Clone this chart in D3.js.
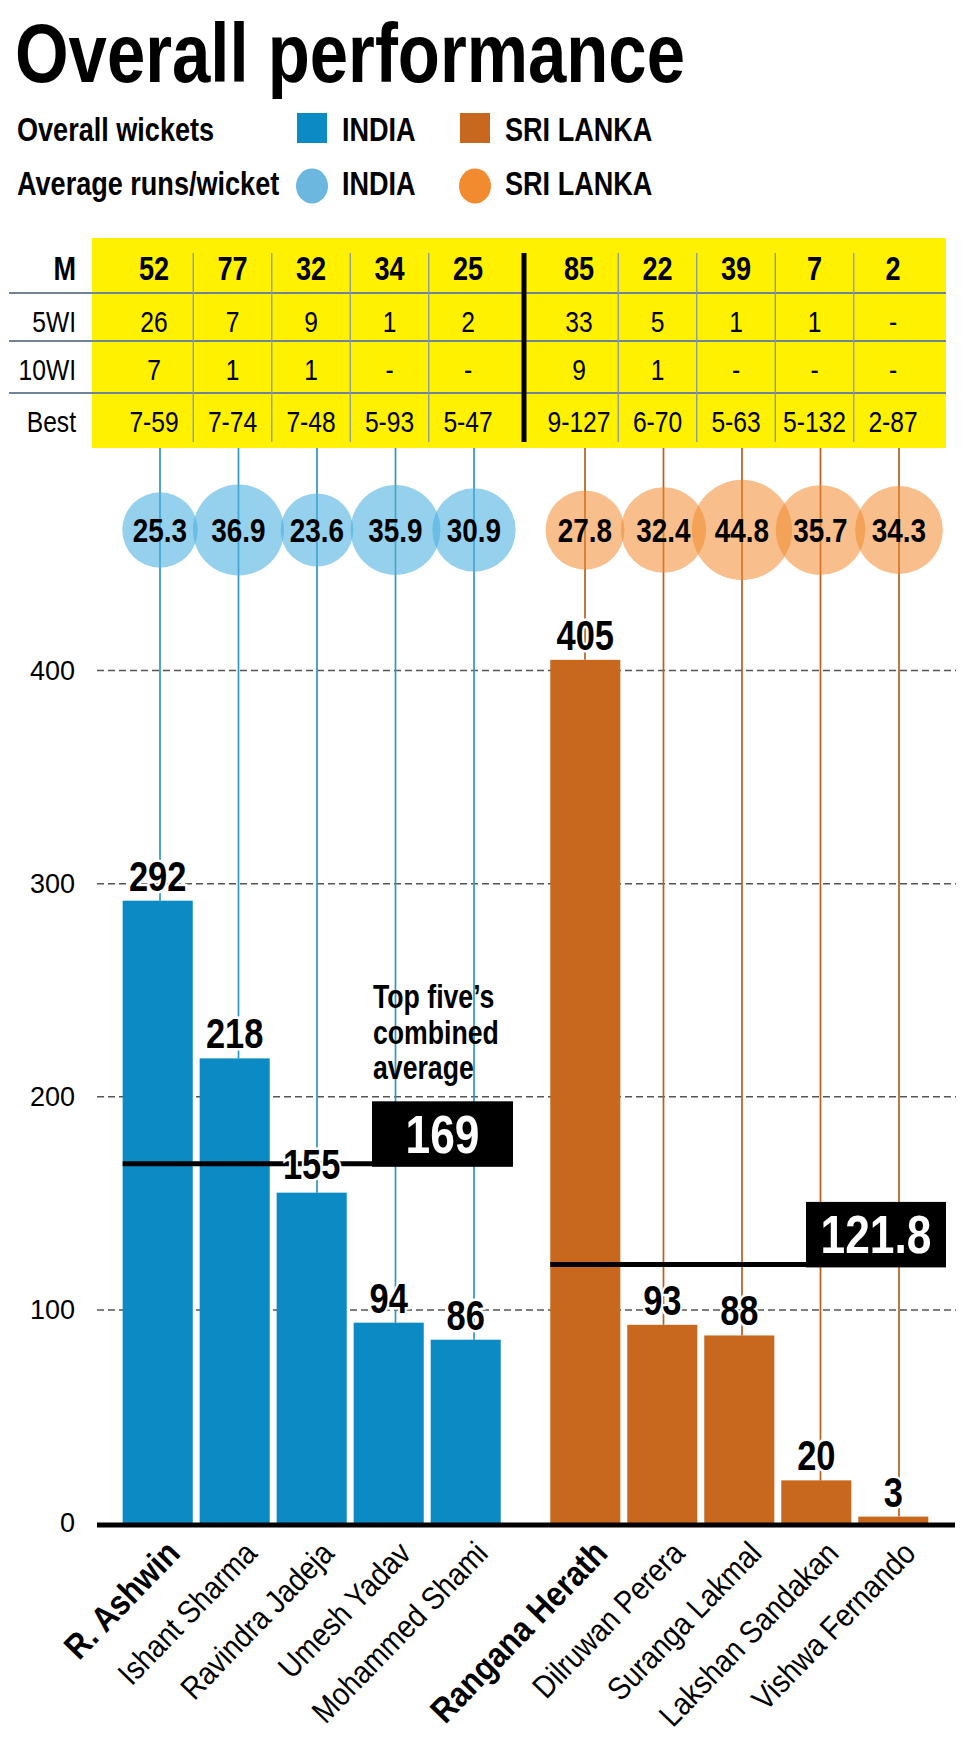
<!DOCTYPE html>
<html>
<head>
<meta charset="utf-8">
<script src="https://cdn.jsdelivr.net/npm/d3@7"></script>
<style>
  body { margin: 0; background: #fff; }
  svg { display: block; }
</style>
</head>
<body>
<svg id="chart"></svg>
<script>
var players = [
  "R. Ashwin", "Ishant Sharma", "Ravindra Jadeja", "Umesh Yadav", "Mohammed Shami",
  "Rangana Herath", "Dilruwan Perera", "Suranga Lakmal", "Lakshan Sandakan", "Vishwa Fernando"
];
var indiaPlayers = players.slice(0, 5);
var lankaPlayers = players.slice(5);
var boldPlayers = ["R. Ashwin", "Rangana Herath"];

var wickets = [292, 218, 155, 94, 86, 405, 93, 88, 20, 3];
var averages = [25.3, 36.9, 23.6, 35.9, 30.9, 27.8, 32.4, 44.8, 35.7, 34.3];
var matches = ["52", "77", "32", "34", "25", "85", "22", "39", "7", "2"];
var fiveWI = ["26", "7", "9", "1", "2", "33", "5", "1", "1", "-"];
var tenWI = ["7", "1", "1", "-", "-", "9", "1", "-", "-", "-"];
var best = ["7-59", "7-74", "7-48", "5-93", "5-47", "9-127", "6-70", "5-63", "5-132", "2-87"];
var rowLabels = ["M", "5WI", "10WI", "Best"];
var teamAverages = [169, 121.8];
var yTicks = [0, 100, 200, 300, 400];

// no narrow face installed: use Liberation Sans and squeeze the texts
var FONT = "'Liberation Sans', Arial, sans-serif";
var SQUEEZE = 0.82;
var colors = {
  india: "#0b8ac4",
  lanka: "#c8671e",
  indiaStem: "#2f98c2",
  lankaStem: "#b95e1c",
  indiaDot: "#4fb0e0",
  lankaDot: "#f28a30",
  yellow: "#fff100",
  rule: "#6f8499",
};

var width = 972;
var height = 1761;

var svg = d3
  .select("#chart")
  .attr("width", width)
  .attr("height", height)
  .style("font-family", FONT);

svg.append("rect").attr("width", width).attr("height", height).attr("fill", "#fff");

function isIndia(name) {
  return indiaPlayers.indexOf(name) >= 0;
}

function squeeze(sel, k) {
  sel.each(function () {
    var len = this.getComputedTextLength();
    d3.select(this)
      .attr("textLength", len * k)
      .attr("lengthAdjust", "spacingAndGlyphs");
  });
}

// bars: two groups with a wider gap between them
var xBarIndia = d3.scaleBand().domain(indiaPlayers).range([119.2, 504.2]).paddingInner(0.09).paddingOuter(0.045);
var xBarLanka = d3.scaleBand().domain(lankaPlayers).range([546.8, 931.8]).paddingInner(0.09).paddingOuter(0.045);
function xBar(name) {
  return isIndia(name) ? xBarIndia(name) : xBarLanka(name);
}
var barWidth = xBarIndia.bandwidth();

// table, bubbles and stems
var xTopIndia = d3.scalePoint().domain(indiaPlayers).range([160, 474]);
var xTopLanka = d3.scalePoint().domain(lankaPlayers).range([585, 899]);
function xTop(name) {
  return isIndia(name) ? xTopIndia(name) : xTopLanka(name);
}
function xCell(name) {
  return xTop(name) - 6;
}

var yScale = d3.scaleLinear().domain([0, 400]).range([1523, 670.5]);
var rScale = d3.scaleSqrt().domain([0, 50]).range([0, 53]);

var rows = players.map(function (p, i) {
  return {
    name: p,
    india: isIndia(p),
    wickets: wickets[i],
    avg: averages[i],
    cells: [matches[i], fiveWI[i], tenWI[i], best[i]],
  };
});

// ---- title and legend
svg
  .append("text")
  .attr("x", 15)
  .attr("y", 82)
  .attr("font-size", 84)
  .attr("font-weight", "bold")
  .text("Overall performance");

var legend = svg.append("g").attr("font-weight", "bold").attr("font-size", 33);
legend.append("text").attr("x", 17).attr("y", 141).text("Overall wickets");
legend.append("text").attr("x", 17).attr("y", 195).text("Average runs/wicket");
legend.append("rect").attr("x", 297).attr("y", 113).attr("width", 30).attr("height", 30).attr("fill", colors.india);
legend.append("rect").attr("x", 460).attr("y", 113).attr("width", 30).attr("height", 30).attr("fill", colors.lanka);
legend.append("ellipse").attr("cx", 312).attr("cy", 186).attr("rx", 16).attr("ry", 17.5).attr("fill", "#6cb7e0");
legend.append("ellipse").attr("cx", 475).attr("cy", 186).attr("rx", 16).attr("ry", 17.5).attr("fill", colors.lankaDot);
[141, 195].forEach(function (yy) {
  legend.append("text").attr("x", 342).attr("y", yy).text("INDIA");
  legend.append("text").attr("x", 505).attr("y", yy).text("SRI LANKA");
});

// ---- stats table
var tableTop = 238;
var tableBottom = 448;
var rowBase = [280, 332, 380, 432];
var ruleY = [293, 341, 393];

svg
  .append("rect")
  .attr("x", 92)
  .attr("y", tableTop)
  .attr("width", 946 - 92)
  .attr("height", tableBottom - tableTop)
  .attr("fill", colors.yellow);

svg
  .selectAll(".rule")
  .data(ruleY)
  .enter()
  .append("line")
  .attr("x1", 9)
  .attr("x2", 946)
  .attr("y1", function (d) { return d; })
  .attr("y2", function (d) { return d; })
  .attr("stroke", colors.rule)
  .attr("stroke-width", 2);

// thin separators between columns of the same team
var seps = [];
[indiaPlayers, lankaPlayers].forEach(function (group) {
  for (var i = 0; i < group.length - 1; i++) {
    seps.push((xCell(group[i]) + xCell(group[i + 1])) / 2);
  }
});
svg
  .selectAll(".sep")
  .data(seps)
  .enter()
  .append("line")
  .attr("x1", function (d) { return d; })
  .attr("x2", function (d) { return d; })
  .attr("y1", 253)
  .attr("y2", 442)
  .attr("stroke", "#8796a8")
  .attr("stroke-width", 1.3);

svg
  .append("line")
  .attr("x1", 524)
  .attr("x2", 524)
  .attr("y1", 253)
  .attr("y2", 442)
  .attr("stroke", "#000")
  .attr("stroke-width", 5);

svg
  .selectAll(".rowlabel")
  .data(rowLabels)
  .enter()
  .append("text")
  .attr("x", 76)
  .attr("y", function (d, i) { return rowBase[i]; })
  .attr("text-anchor", "end")
  .attr("font-size", function (d, i) { return i === 0 ? 33 : 30; })
  .attr("font-weight", function (d, i) { return i === 0 ? "bold" : "normal"; })
  .text(function (d) { return d; });

rowLabels.forEach(function (label, r) {
  svg
    .append("g")
    .selectAll("text")
    .data(rows)
    .enter()
    .append("text")
    .attr("x", function (d) { return xCell(d.name); })
    .attr("y", rowBase[r])
    .attr("text-anchor", "middle")
    .attr("font-size", r === 0 ? 33 : 30)
    .attr("font-weight", r === 0 ? "bold" : "normal")
    .text(function (d) { return d.cells[r]; });
});

// ---- gridlines
var grid = svg.append("g");
grid
  .selectAll("line")
  .data(yTicks.filter(function (d) { return d > 0; }))
  .enter()
  .append("line")
  .attr("x1", 97)
  .attr("x2", 956)
  .attr("y1", function (d) { return yScale(d); })
  .attr("y2", function (d) { return yScale(d); })
  .attr("stroke", "#555")
  .attr("stroke-width", 1.5)
  .attr("stroke-dasharray", "7,4");

// ---- stems
svg
  .append("g")
  .selectAll("line")
  .data(rows)
  .enter()
  .append("line")
  .attr("x1", function (d) { return xTop(d.name); })
  .attr("x2", function (d) { return xTop(d.name); })
  .attr("y1", tableBottom)
  .attr("y2", function (d) { return yScale(d.wickets); })
  .attr("stroke", function (d) { return d.india ? colors.indiaStem : colors.lankaStem; })
  .attr("stroke-width", 1.7);

// ---- bubbles
var bubbleY = 530;
var bubbles = svg.append("g");
bubbles
  .selectAll("circle")
  .data(rows)
  .enter()
  .append("circle")
  .attr("cx", function (d) { return xTop(d.name); })
  .attr("cy", bubbleY)
  .attr("r", function (d) { return rScale(d.avg); })
  .attr("fill", function (d) { return d.india ? colors.indiaDot : colors.lankaDot; })
  .attr("fill-opacity", function (d) { return d.india ? 0.6 : 0.55; });

bubbles
  .selectAll("text")
  .data(rows)
  .enter()
  .append("text")
  .attr("x", function (d) { return xTop(d.name); })
  .attr("y", bubbleY + 12)
  .attr("text-anchor", "middle")
  .attr("font-size", 34)
  .attr("font-weight", "bold")
  .text(function (d) { return d.avg.toFixed(1); });

// ---- bars
svg
  .append("g")
  .selectAll("rect")
  .data(rows)
  .enter()
  .append("rect")
  .attr("x", function (d) { return xBar(d.name); })
  .attr("width", barWidth)
  .attr("y", function (d) { return yScale(d.wickets); })
  .attr("height", function (d) { return yScale(0) - yScale(d.wickets); })
  .attr("fill", function (d) { return d.india ? colors.india : colors.lanka; });

// ---- team average lines and boxes
var avgInfo = [
  { value: teamAverages[0], x1: xBar(indiaPlayers[0]), boxX: 372, boxW: 141 },
  { value: teamAverages[1], x1: xBar(lankaPlayers[0]), boxX: 806, boxW: 140 },
];
var avgG = svg.append("g");
avgG
  .selectAll("line")
  .data(avgInfo)
  .enter()
  .append("line")
  .attr("x1", function (d) { return d.x1; })
  .attr("x2", function (d) { return d.boxX; })
  .attr("y1", function (d) { return yScale(d.value) + 1; })
  .attr("y2", function (d) { return yScale(d.value) + 1; })
  .attr("stroke", "#000")
  .attr("stroke-width", 5);

// ---- bar value labels (white halo so stems and lines break around them)
svg
  .append("g")
  .selectAll("text")
  .data(rows)
  .enter()
  .append("text")
  .attr("x", function (d) { return xBar(d.name) + barWidth / 2; })
  .attr("y", function (d) { return yScale(d.wickets) - (d.wickets === 155 ? 14 : 10); })
  .attr("text-anchor", "middle")
  .attr("font-size", 42)
  .attr("font-weight", "bold")
  .attr("stroke", "#fff")
  .attr("stroke-width", 5)
  .attr("paint-order", "stroke")
  .text(function (d) { return d.wickets; });

avgG
  .selectAll("rect")
  .data(avgInfo)
  .enter()
  .append("rect")
  .attr("x", function (d) { return d.boxX; })
  .attr("y", function (d) { return yScale(d.value) + 4 - 65.5; })
  .attr("width", function (d) { return d.boxW; })
  .attr("height", 65.5)
  .attr("fill", "#000");

avgG
  .selectAll("text")
  .data(avgInfo)
  .enter()
  .append("text")
  .attr("x", function (d) { return d.boxX + d.boxW / 2; })
  .attr("y", function (d) { return yScale(d.value) - 10; })
  .attr("text-anchor", "middle")
  .attr("font-size", 54)
  .attr("font-weight", "bold")
  .attr("fill", "#fff")
  .text(function (d) { return d.value; });

svg
  .append("g")
  .selectAll("text")
  .data(["Top five\u2019s", "combined", "average"])
  .enter()
  .append("text")
  .attr("x", 373)
  .attr("y", function (d, i) { return 1008 + i * 35.5; })
  .attr("font-size", 32.5)
  .attr("font-weight", "bold")
  .text(function (d) { return d; });

// ---- baseline
svg
  .append("line")
  .attr("x1", 97)
  .attr("x2", 955)
  .attr("y1", 1525)
  .attr("y2", 1525)
  .attr("stroke", "#000")
  .attr("stroke-width", 5);

squeeze(svg.selectAll("text"), SQUEEZE);

// ---- rotated player names
var names = svg
  .append("g")
  .selectAll("text")
  .data(rows)
  .enter()
  .append("text")
  .attr("transform", function (d) {
    return "translate(" + (xBar(d.name) + barWidth / 2 + 24) + ",1555) rotate(-46)";
  })
  .attr("text-anchor", "end")
  .attr("font-size", function (d) { return boldPlayers.indexOf(d.name) >= 0 ? 35 : 32; })
  .attr("font-weight", function (d) { return boldPlayers.indexOf(d.name) >= 0 ? "bold" : "normal"; })
  .text(function (d) { return d.name; });
squeeze(names, 0.88);

// y tick labels keep their normal width
svg
  .append("g")
  .selectAll("text")
  .data(yTicks)
  .enter()
  .append("text")
  .attr("x", 75)
  .attr("y", function (d) { return yScale(d); })
  .attr("dy", "0.35em")
  .attr("text-anchor", "end")
  .attr("font-size", 27)
  .text(function (d) { return d; });
</script>
</body>
</html>
